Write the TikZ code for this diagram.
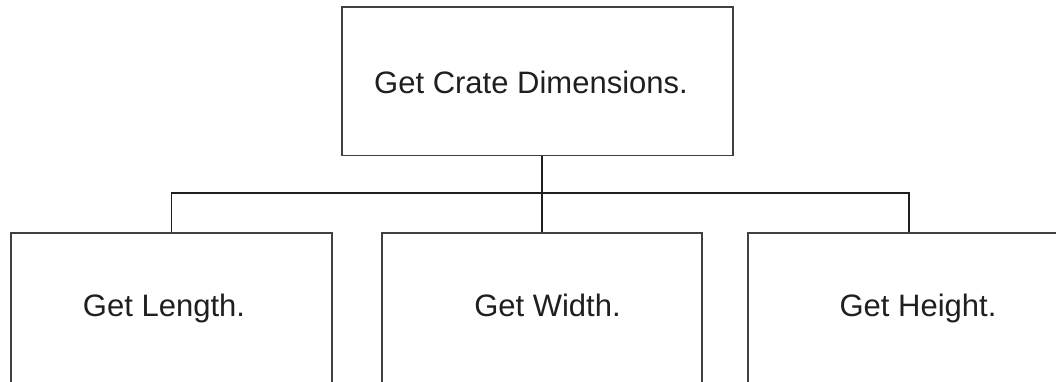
\documentclass[tikz,border=0pt]{standalone}
\usepackage{fontspec}
\setmainfont{Liberation Sans}
\begin{document}
\begin{tikzpicture}[x=1pt,y=-1pt,
  box/.style={draw=black!75, line width=1.8pt, rectangle, inner sep=0pt},
  lbl/.style={font=\fontsize{31}{36}\selectfont, text=black!88, inner sep=0pt, anchor=base},
  conn/.style={draw=black!88, line width=1.8pt}]
\useasboundingbox (0,0) rectangle (1056,381);
\clip (0,0) rectangle (1056,381);
\node[box, minimum width=391pt, minimum height=148.5pt] (top) at (537.5,81.25) {};
\node[box, minimum width=321pt, minimum height=200pt] (left) at (171.5,333.3) {};
\node[box, minimum width=320.6pt, minimum height=200pt] (mid) at (542,333.3) {};
\node[box, minimum width=321pt, minimum height=200pt] (right) at (908.8,333.3) {};
\node[lbl] (ttop) at (531,93) {Get Crate Dimensions.};
\node[lbl] (tleft) at (164,316.7) {Get Length.};
\node[lbl] (tmid) at (547.5,316.7) {Get Width.};
\node[lbl] (tright) at (918,316.7) {Get Height.};
\coordinate (bar) at (0,192.7);
\draw[conn] (left.north) -- (left.north |- bar) -- (right.north |- bar) -- (right.north);
\draw[conn] (top.south -| mid.north) -- (mid.north);
\end{tikzpicture}
\end{document}
